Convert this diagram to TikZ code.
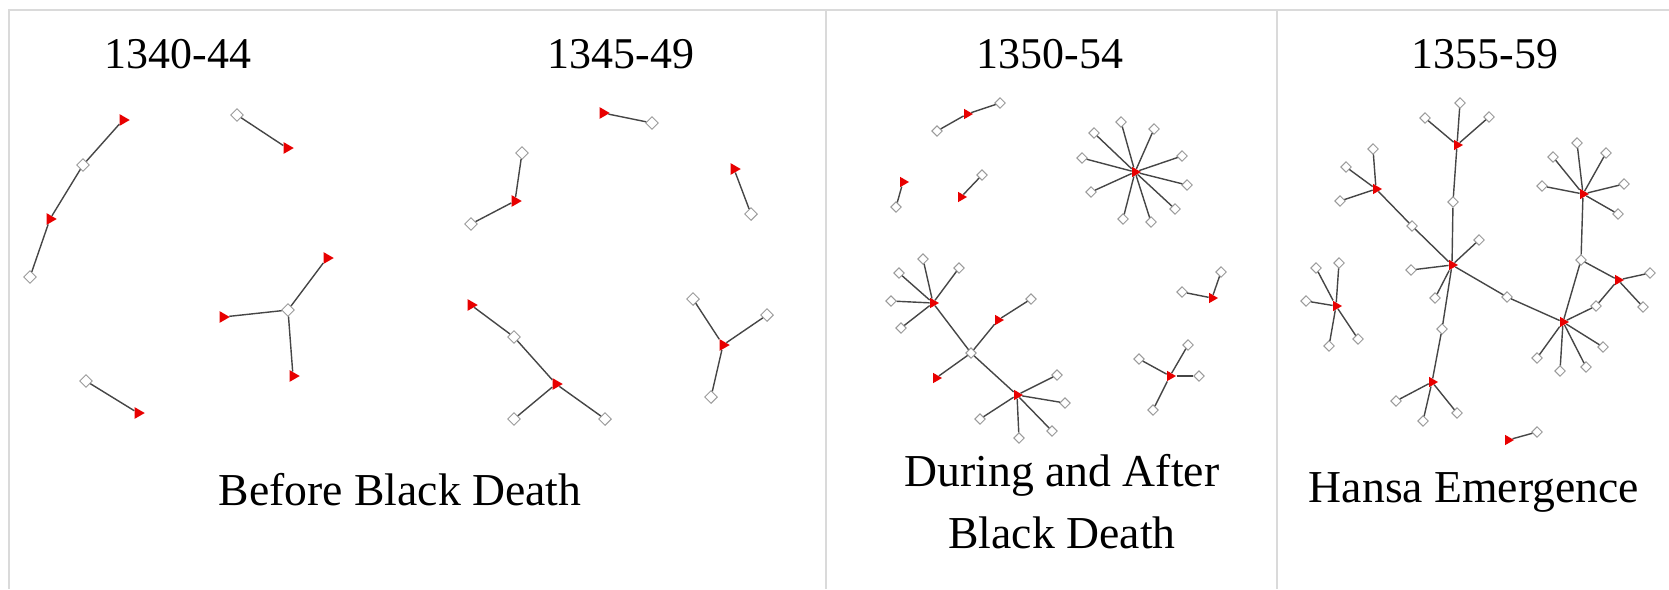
\documentclass[tikz,border=0pt]{standalone}
\usepackage{fontspec}
\setmainfont{Liberation Serif}
\usepackage{tikz}
\usetikzlibrary{shapes.geometric}
\definecolor{nodered}{RGB}{232,0,0}
\definecolor{linkgray}{RGB}{70,70,70}
\definecolor{rimgray}{RGB}{155,155,155}
\definecolor{framegray}{RGB}{218,218,218}
\tikzset{
  tri/.style={regular polygon, regular polygon sides=3, shape border rotate=-90,
    fill=nodered, draw=none, inner sep=0pt, minimum size=0.27cm},
  dia/.style={diamond, draw=rimgray, fill=white, line width=0.55pt,
    inner sep=0pt, minimum size=0.26cm},
  smalltri/.style={tri, minimum size=0.24cm},
  smalldia/.style={dia, minimum size=0.215cm},
  link/.style={draw=linkgray, line width=0.8pt},
  frame/.style={draw=framegray, line width=1.2pt}
}

\begin{document}
\begin{tikzpicture}[
  x=0.02cm, y=-0.02cm,
  title/.style={font=\fontsize{25}{30}\selectfont, anchor=base, inner sep=0pt},
  caption/.style={font=\fontsize{26}{35}\selectfont, anchor=base, align=center, inner sep=0pt}
]
\useasboundingbox (0,0) rectangle (1669,589);

%--- FRAME ---
\draw[frame] (8,10) -- (1669,10);
\draw[frame] (9,10) -- (9,589);
\draw[frame] (826,10) -- (826,589);
\draw[frame] (1277,10) -- (1277,589);

%--- TITLES ---
\node[title] (t1) at (178,68) {1340-44};
\node[title] (t2) at (621,68) {1345-49};
\node[title] (t3) at (1050,68) {1350-54};
\node[title] (t4) at (1485,68) {1355-59};

%--- CAPTIONS ---
\node[caption] (c1) at (400,505) {Before Black Death};
\node[caption] (c2) at (1062,548) {During and After\\Black Death};
\node[caption] (c3) at (1474,502) {Hansa Emergence};

%--- 1340-44 ---
\node[tri] (A1) at (123,120) {};
\node[dia] (A2) at (83,165) {};
\node[tri] (A3) at (50,219) {};
\node[dia] (A4) at (30,277) {};
\draw[link] (A1) -- (A2) -- (A3) -- (A4);
\node[dia] (A5) at (237,115) {};
\node[tri] (A6) at (287,148) {};
\draw[link] (A5) -- (A6);
\node[dia] (A7) at (288,310) {};
\node[tri] (A8) at (327,258) {};
\node[tri] (A9) at (223,317) {};
\node[tri] (A10) at (293,376) {};
\foreach \n in {A8,A9,A10} { \draw[link] (A7) -- (\n); }
\node[dia] (A11) at (86,381) {};
\node[tri] (A12) at (138,413) {};
\draw[link] (A11) -- (A12);

%--- 1345-49 ---
\node[tri] (B1) at (603,113) {};
\node[dia] (B2) at (652,123) {};
\draw[link] (B1) -- (B2);
\node[dia] (B3) at (522,153) {};
\node[tri] (B4) at (515,201) {};
\node[dia] (B5) at (471,224) {};
\draw[link] (B3) -- (B4) -- (B5);
\node[tri] (B6) at (734,169) {};
\node[dia] (B7) at (751,214) {};
\draw[link] (B6) -- (B7);
\node[tri] (B8) at (471,305) {};
\node[dia] (B9) at (514,337) {};
\node[tri] (B10) at (556,384) {};
\node[dia] (B11) at (514,419) {};
\node[dia] (B12) at (605,419) {};
\draw[link] (B8) -- (B9) -- (B10);
\foreach \n in {B11,B12} { \draw[link] (B10) -- (\n); }
\node[tri] (B13) at (723,345) {};
\node[dia] (B14) at (693,299) {};
\node[dia] (B15) at (767,315) {};
\node[dia] (B16) at (711,397) {};
\foreach \n in {B14,B15,B16} { \draw[link] (B13) -- (\n); }

%--- 1350-54 ---
\node[smalldia] (C1) at (937,131) {};
\node[smalltri] (C2) at (967,114) {};
\node[smalldia] (C3) at (1000,103) {};
\draw[link] (C1) -- (C2) -- (C3);
\node[smalltri] (C4) at (903,182) {};
\node[smalldia] (C5) at (896,207) {};
\draw[link] (C4) -- (C5);
\node[smalldia] (C6) at (982,175) {};
\node[smalltri] (C7) at (961,197) {};
\draw[link] (C6) -- (C7);
% star
\node[smalltri] (Cs) at (1135,172) {};
\foreach \x/\y [count=\i] in {1121/122, 1154/129, 1094/133, 1082/158, 1182/156,
    1187/185, 1091/192, 1175/209, 1123/219, 1151/222} {
  \node[smalldia] (Cs\i) at (\x,\y) {};
  \draw[link] (Cs) -- (Cs\i);
}
% tree
\node[smalltri] (Ct1) at (933,303) {};
\foreach \x/\y [count=\i] in {923/259, 899/273, 959/268, 891/301, 901/328} {
  \node[smalldia] (Ct1\i) at (\x,\y) {};
  \draw[link] (Ct1) -- (Ct1\i);
}
\node[smalldia] (Ct2) at (971,353) {};
\node[smalltri] (Ct3) at (998,320) {};
\node[smalldia] (Ct4) at (1031,299) {};
\node[smalltri] (Ct5) at (936,378) {};
\node[smalltri] (Ct6) at (1017,395) {};
\foreach \x/\y [count=\i] in {1057/375, 1065/403, 980/419, 1019/438, 1052/431} {
  \node[smalldia] (Ct6\i) at (\x,\y) {};
  \draw[link] (Ct6) -- (Ct6\i);
}
\draw[link] (Ct1) -- (Ct2) -- (Ct3) -- (Ct4);
\foreach \n in {Ct5,Ct6} { \draw[link] (Ct2) -- (\n); }
\node[smalldia] (C9) at (1182,292) {};
\node[smalltri] (C10) at (1212,298) {};
\node[smalldia] (C11) at (1221,272) {};
\draw[link] (C9) -- (C10) -- (C11);
\node[smalltri] (C12) at (1170,376) {};
\foreach \x/\y [count=\i] in {1188/345, 1139/359, 1199/376, 1153/410} {
  \node[smalldia] (C12\i) at (\x,\y) {};
  \draw[link] (C12) -- (C12\i);
}

%--- 1355-59 ---
\node[smalltri] (Dh) at (1452,265) {};
\foreach \x/\y [count=\i] in {1479/240, 1411/270, 1435/298} {
  \node[smalldia] (Dh\i) at (\x,\y) {};
  \draw[link] (Dh) -- (Dh\i);
}
\node[smalldia] (Dd1) at (1453,202) {};
\node[smalltri] (Dt) at (1457,145) {};
\foreach \x/\y [count=\i] in {1460/103, 1425/118, 1489/117} {
  \node[smalldia] (Dt\i) at (\x,\y) {};
  \draw[link] (Dt) -- (Dt\i);
}
\node[smalldia] (Dd2) at (1412,226) {};
\node[smalltri] (Dl) at (1376,189) {};
\foreach \x/\y [count=\i] in {1373/149, 1346/167, 1340/201} {
  \node[smalldia] (Dl\i) at (\x,\y) {};
  \draw[link] (Dl) -- (Dl\i);
}
\node[smalldia] (Dd3) at (1442,329) {};
\node[smalltri] (Db) at (1432,382) {};
\foreach \x/\y [count=\i] in {1396/401, 1423/421, 1457/413} {
  \node[smalldia] (Db\i) at (\x,\y) {};
  \draw[link] (Db) -- (Db\i);
}
\node[smalldia] (Dd4) at (1507,297) {};
\node[smalltri] (Dr) at (1563,322) {};
\foreach \x/\y [count=\i] in {1603/347, 1586/367, 1560/371, 1537/358} {
  \node[smalldia] (Dr\i) at (\x,\y) {};
  \draw[link] (Dr) -- (Dr\i);
}
\node[smalldia] (Dd5) at (1581,260) {};
\node[smalltri] (Du) at (1583,194) {};
\foreach \x/\y [count=\i] in {1577/143, 1553/157, 1606/153, 1542/186, 1624/184, 1618/214} {
  \node[smalldia] (Du\i) at (\x,\y) {};
  \draw[link] (Du) -- (Du\i);
}
\node[smalltri] (Dv) at (1618,280) {};
\foreach \x/\y [count=\i] in {1650/273, 1643/307} {
  \node[smalldia] (Dv\i) at (\x,\y) {};
  \draw[link] (Dv) -- (Dv\i);
}
\node[smalldia] (Dd6) at (1596,306) {};
\foreach \a/\b in {Dh/Dd1, Dd1/Dt, Dh/Dd2, Dd2/Dl, Dh/Dd3, Dd3/Db, Dh/Dd4, Dd4/Dr,
    Dr/Dd5, Dd5/Du, Dd5/Dv, Dv/Dd6, Dd6/Dr} {
  \draw[link] (\a) -- (\b);
}
\node[smalltri] (Ds) at (1336,306) {};
\foreach \x/\y [count=\i] in {1316/268, 1339/263, 1306/301, 1329/346, 1358/339} {
  \node[smalldia] (Ds\i) at (\x,\y) {};
  \draw[link] (Ds) -- (Ds\i);
}
\node[smalltri] (De) at (1508,440) {};
\node[smalldia] (Df) at (1537,432) {};
\draw[link] (De) -- (Df);
\end{tikzpicture}
\end{document}
